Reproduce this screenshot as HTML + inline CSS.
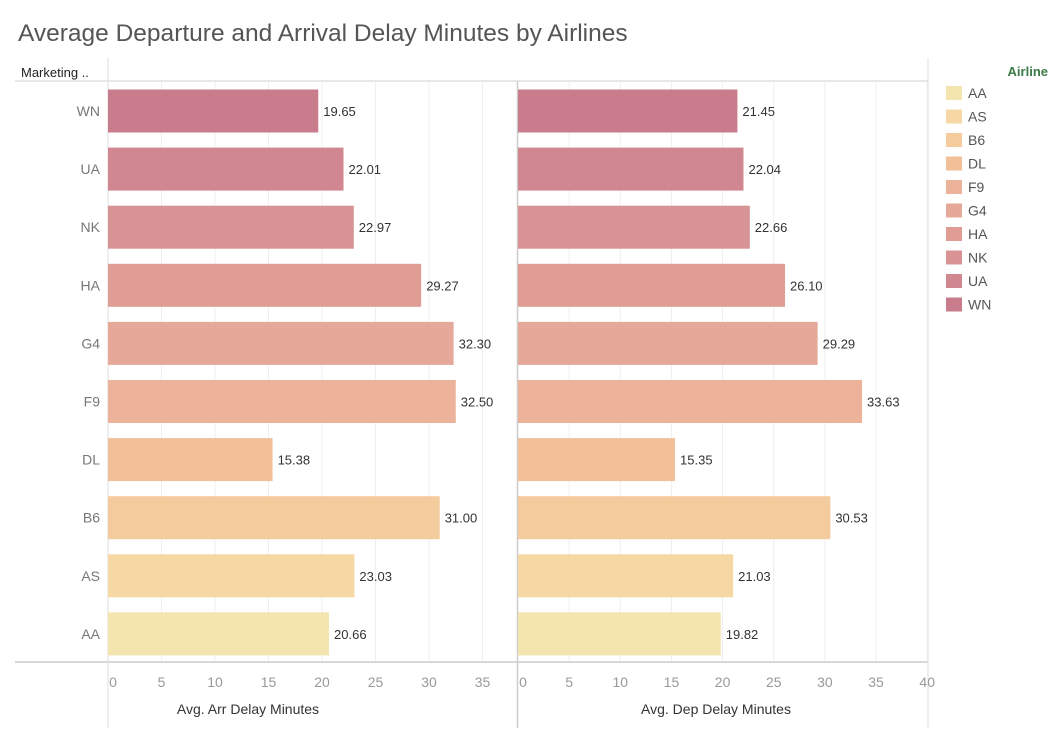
<!DOCTYPE html>
<html><head><meta charset="utf-8"><style>
body{margin:0;background:#fff;font-family:"Liberation Sans",sans-serif;}
svg text{font-family:"Liberation Sans",sans-serif;}
</style></head><body>
<svg id="c" width="1064" height="738">
<text x="18" y="41" font-size="24.5" fill="#555">Average Departure and Arrival Delay Minutes by Airlines</text>
<text x="21" y="77" font-size="13" fill="#222">Marketing ..</text>
<line x1="15" y1="81" x2="928" y2="81" stroke="#e0e0e0" stroke-width="1.5"/>
<line x1="15" y1="662" x2="928" y2="662" stroke="#ccc" stroke-width="1.5"/>
<line x1="108" y1="58" x2="108" y2="728" stroke="#ddd"/>
<line x1="517.5" y1="81" x2="517.5" y2="728" stroke="#ccc" stroke-width="1.5"/>
<line x1="928" y1="58" x2="928" y2="728" stroke="#ddd"/>
<g id="plot"></g>
<text x="248" y="714" text-anchor="middle" font-size="14" fill="#333">Avg. Arr Delay Minutes</text>
<text x="716" y="714" text-anchor="middle" font-size="14" fill="#333">Avg. Dep Delay Minutes</text>
<text x="1048" y="76" text-anchor="end" font-size="13" font-weight="bold" fill="#3a7a45">Airline</text>
<g id="legend"></g>
</svg>
<script>
const airlines=["WN","UA","NK","HA","G4","F9","DL","B6","AS","AA"];
const arrDelay=[19.65,22.01,22.97,29.27,32.30,32.50,15.38,31.00,23.03,20.66];
const depDelay=[21.45,22.04,22.66,26.10,29.29,33.63,15.35,30.53,21.03,19.82];
const arrTicks=[0,5,10,15,20,25,30,35];
const depTicks=[0,5,10,15,20,25,30,35,40];
const legendOrder=["AA","AS","B6","DL","F9","G4","HA","NK","UA","WN"];
const palette=["#f4e4ad","#f5d8a4","#f4cb9c","#f1bf98","#ecb39a","#e6a898","#df9d96","#d89394","#d08790","#c97d8c"];
const NS="http://www.w3.org/2000/svg";
const plot=document.getElementById('plot'),legend=document.getElementById('legend');
function mk(tag,attrs,parent){const e=document.createElementNS(NS,tag);for(const k in attrs)e.setAttribute(k,attrs[k]);parent.appendChild(e);return e;}
function color(name){return palette[legendOrder.indexOf(name)];}
const yRow=i=>111+i*58.1;
const panels=[{x0:108,ppu:10.7,vals:arrDelay,ticks:arrTicks,id:'arr'},{x0:518,ppu:10.23,vals:depDelay,ticks:depTicks,id:'dep'}];
panels.forEach(p=>{
  const sx=v=>p.x0+v*p.ppu;
  p.ticks.forEach(t=>{
    if(t>0){const g=mk('line',{x1:sx(t),x2:sx(t),y1:82,y2:661,stroke:'#efefef'},plot);
    
    }
    const tx=mk('text',{x:t===0?sx(t)+5:sx(t),y:687,'text-anchor':'middle','font-size':14,fill:'#999'},plot);
    tx.textContent=t;
    
    
  });
  airlines.forEach((a,i)=>{
    const v=p.vals[i];
    const r=mk('rect',{x:sx(0),y:yRow(i)-21.5,width:sx(v)-sx(0),height:43,fill:color(a)},plot);
    
    
    const l=mk('text',{x:sx(v)+5,y:yRow(i)+5,'font-size':13,fill:'#333'},plot);
    l.textContent=v.toFixed(2);
    
    
  });
});
airlines.forEach((a,i)=>{
  const t=mk('text',{x:100,y:yRow(i)+5,'text-anchor':'end','font-size':14,fill:'#777'},plot);
  t.textContent=a;
  
  
});
legendOrder.forEach((a,i)=>{
  const y=86+i*23.5;
  const s=mk('rect',{x:946,y:y,width:16,height:14,fill:color(a)},legend);
  
  
  const t=mk('text',{x:968,y:y+12,'font-size':14,fill:'#555'},legend);
  t.textContent=a;
  
  
});
</script>
</body></html>
